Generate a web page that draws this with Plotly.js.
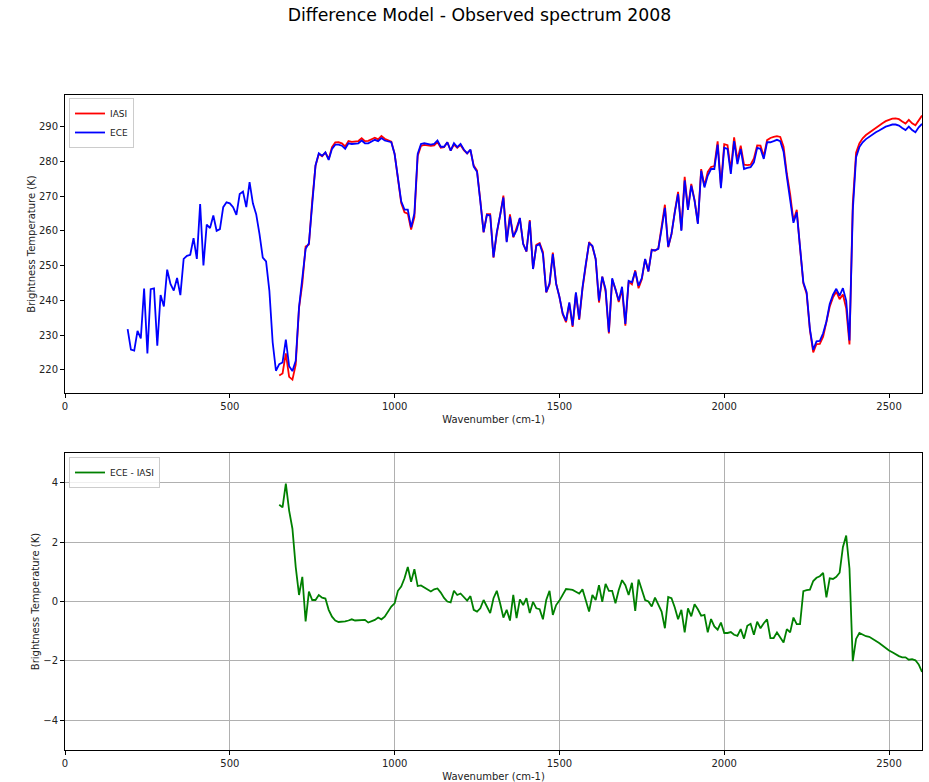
<!DOCTYPE html>
<html>
<head>
<meta charset="utf-8">
<script src="https://cdn.plot.ly/plotly-3.0.1.min.js"></script>
<style>html,body{margin:0;padding:0;background:#fff;}#chart{width:929px;height:782px;}</style>
</head>
<body>
<div id="chart"></div>
<script>
// Wavenumber grid (cm-1)
const wavenumber = [
190,200,210,220,230,240,250,260,270,280,
290,300,310,320,330,340,350,360,370,380,
390,400,410,420,430,440,450,460,470,480,
490,500,510,520,530,540,550,560,570,580,
590,600,610,620,630,640,
650,660,670,680,690,700,710,720,730,740,
750,760,770,780,790,800,810,820,830,840,
850,860,870,880,890,900,910,920,930,940,
950,960,970,980,990,1000,1010,1020,1030,1040,
1050,1060,1070,1080,1090,1100,1110,1120,1130,1140,
1150,1160,1170,1180,1190,1200,1210,1220,1230,1240,
1250,1260,1270,1280,1290,1300,1310,1320,1330,1340,
1350,1360,1370,1380,1390,1400,1410,1420,1430,1440,
1450,1460,1470,1480,1490,1500,1510,1520,1530,1540,
1550,1560,1570,1580,1590,1600,1610,1620,1630,1640,
1650,1660,1670,1680,1690,1700,1710,1720,1730,1740,
1750,1760,1770,1780,1790,1800,1810,1820,1830,1840,
1850,1860,1870,1880,1890,1900,1910,1920,1930,1940,
1950,1960,1970,1980,1990,2000,2010,2020,2030,2040,
2050,2060,2070,2080,2090,2100,2110,2120,2130,2140,
2150,2160,2170,2180,2190,2200,2210,2220,2230,2240,
2250,2260,2270,2280,2290,2300,2310,2320,2330,2340,
2350,2360,2370,2380,2390,2400,2410,2420,2430,2440,
2450,2460,2470,2480,2490,2500,2510,2520,2530,2540,
2550,2560,2570,2580,2590,2600];

// ECE model brightness temperature (K), 190..2600
const ece = [
231.7,225.8,225.5,231.2,229.0,243.4,224.7,243.2,243.4,226.9,
241.5,238.2,248.8,244.7,242.8,246.4,241.5,251.9,252.8,253.1,
257.9,251.9,267.7,250.0,261.8,260.8,264.4,260.0,260.5,266.8,
268.2,267.9,266.8,264.6,270.6,271.3,266.8,274.0,267.9,264.8,
259.1,252.3,251.2,242.8,227.9,219.7,
221.6,222.1,228.7,221.0,219.6,222.6,238.0,245.6,254.8,256.4,
268.7,278.8,282.3,281.6,282.6,280.4,283.6,284.8,284.8,284.5,
283.6,285.2,285.0,285.0,285.2,286.0,285.2,285.2,285.8,286.2,
285.8,286.7,286.0,285.7,285.5,282.1,275.4,268.5,266.1,266.1,
261.0,265.0,282.1,285.0,285.2,285.0,284.8,285.0,286.0,284.2,
284.2,285.5,283.1,285.2,284.1,285.0,283.4,282.3,283.4,278.5,
277.0,268.5,259.6,264.6,264.4,252.4,259.6,264.4,269.6,256.7,
264.1,258.3,260.1,263.7,256.2,254.1,262.7,249.0,255.7,256.2,
253.3,242.3,244.9,253.3,244.7,241.0,236.2,234.1,239.4,232.7,
242.3,234.6,243.7,250.4,256.4,255.7,251.9,239.9,246.8,243.2,
230.8,246.3,243.2,239.9,243.9,233.2,245.6,245.2,248.3,244.2,
246.4,251.9,248.3,254.4,254.4,254.8,260.5,266.6,255.4,259.1,
265.3,270.6,260.0,274.5,266.0,273.0,268.7,262.0,277.3,272.5,
275.9,277.8,277.8,284.8,272.3,283.9,283.6,276.4,285.8,279.2,
283.6,277.8,278.1,278.3,279.7,283.9,283.6,280.7,285.5,285.5,
285.8,286.2,285.8,282.8,275.5,269.5,262.3,265.3,254.3,245.2,
242.3,231.7,225.7,228.2,228.3,230.5,233.9,238.9,241.6,243.3,
241.3,243.5,239.9,228.4,265.8,281.2,284.1,285.5,286.4,287.1,
287.7,288.4,288.9,289.5,290.0,290.3,290.6,290.6,290.3,289.6,
289.0,290.0,289.0,288.4,289.8,290.8];

// IASI observed brightness temperature (K), 650..2600
const iasi = [
218.34,218.93,224.73,217.94,217.15,221.44,237.78,244.77,255.47,256.07,
268.65,278.75,282.08,281.47,282.50,280.68,284.11,285.44,285.49,285.19,
284.27,285.84,285.60,285.64,285.84,286.64,285.82,285.91,286.47,286.82,
286.34,287.30,286.51,286.04,285.67,282.16,275.04,268.00,265.32,264.94,
260.34,263.91,281.58,284.46,284.73,284.59,284.46,284.59,285.56,283.90,
284.08,285.50,283.13,284.84,283.88,284.73,283.24,282.27,283.22,278.78,
277.34,268.73,259.55,264.77,264.79,252.29,259.24,264.46,270.14,256.98,
264.74,258.08,260.66,263.63,256.32,253.99,263.09,249.01,255.93,256.46,
253.90,242.25,244.54,253.75,244.82,240.97,235.98,233.68,238.99,232.31,
241.97,234.33,243.29,250.35,256.74,255.48,251.85,239.35,246.81,242.61,
230.44,245.94,243.26,239.51,243.18,232.65,245.38,244.57,248.62,243.46,
246.01,251.85,248.30,254.57,254.27,254.92,260.84,267.50,255.25,258.99,
265.50,271.20,260.28,275.54,266.23,273.50,268.79,262.26,277.78,272.95,
276.94,278.39,278.64,285.75,273.01,284.96,284.66,277.43,286.92,280.36,
284.53,279.05,278.92,279.05,280.82,284.58,284.50,281.43,286.10,286.73,
287.03,287.24,287.03,284.18,276.43,270.54,262.84,266.06,255.06,244.85,
241.92,231.30,225.01,227.40,227.45,229.54,233.76,238.12,240.84,242.47,
240.33,241.67,237.68,227.29,267.81,282.46,285.16,286.62,287.57,288.29,
288.96,289.71,290.30,290.98,291.57,291.95,292.31,292.39,292.14,291.48,
290.88,291.96,290.94,290.38,291.92,293.17];

// ECE - IASI (K), 650..2600
const eceMinusIasi = [
3.26,3.17,3.97,3.06,2.45,1.16,0.22,0.83,-0.67,0.33,
0.05,0.05,0.22,0.13,0.10,-0.28,-0.51,-0.64,-0.69,-0.69,
-0.67,-0.64,-0.60,-0.64,-0.64,-0.64,-0.62,-0.71,-0.67,-0.62,
-0.54,-0.60,-0.51,-0.34,-0.17,-0.06,0.36,0.50,0.78,1.16,
0.66,1.09,0.52,0.54,0.47,0.41,0.34,0.41,0.44,0.30,
0.12,0.00,-0.03,0.36,0.22,0.27,0.16,0.03,0.18,-0.28,
-0.34,-0.23,0.05,-0.17,-0.39,0.11,0.36,-0.06,-0.54,-0.28,
-0.64,0.22,-0.56,0.07,-0.12,0.11,-0.39,-0.01,-0.23,-0.26,
-0.60,0.05,0.36,-0.45,-0.12,0.03,0.22,0.42,0.41,0.39,
0.33,0.27,0.41,0.05,-0.34,0.22,0.05,0.55,-0.01,0.59,
0.36,0.36,-0.06,0.39,0.72,0.55,0.22,0.63,-0.32,0.74,
0.39,0.05,0.00,-0.17,0.13,-0.12,-0.34,-0.90,0.15,0.11,
-0.20,-0.60,-0.28,-1.04,-0.23,-0.50,-0.09,-0.26,-0.48,-0.45,
-1.04,-0.59,-0.84,-0.95,-0.71,-1.06,-1.06,-1.03,-1.12,-1.16,
-0.93,-1.25,-0.82,-0.75,-1.12,-0.68,-0.90,-0.73,-0.60,-1.23,
-1.23,-1.04,-1.23,-1.38,-0.93,-1.04,-0.54,-0.76,-0.76,0.35,
0.38,0.40,0.69,0.80,0.85,0.96,0.14,0.78,0.76,0.83,
0.97,1.83,2.22,1.11,-2.01,-1.26,-1.06,-1.12,-1.17,-1.19,
-1.26,-1.31,-1.40,-1.48,-1.57,-1.65,-1.71,-1.79,-1.84,-1.88,
-1.88,-1.96,-1.94,-1.98,-2.12,-2.37];

const titleText = "Difference Model - Observed spectrum 2008";
const xTitle = "Wavenumber (cm-1)";
const yTitle = "Brightness Temperature (K)";
const xTicks = [0, 500, 1000, 1500, 2000, 2500];
const yTicksTop = [220, 230, 240, 250, 260, 270, 280, 290];
const yTicksBottom = [-4, -2, 0, 2, 4];

const wnIasi = wavenumber.slice(wavenumber.indexOf(650));

const W = 929, H = 782;
const FONT = "DejaVu Sans, sans-serif";

const traces = [
  {x: wnIasi, y: iasi, name: "IASI", type: "scatter", mode: "lines",
   line: {color: "#ff0000", width: 1.8}, xaxis: "x", yaxis: "y", legend: "legend"},
  {x: wavenumber, y: ece, name: "ECE", type: "scatter", mode: "lines",
   line: {color: "#0000ff", width: 1.8}, xaxis: "x", yaxis: "y", legend: "legend"},
  {x: wnIasi, y: eceMinusIasi, name: "ECE - IASI", type: "scatter", mode: "lines",
   line: {color: "#008000", width: 1.8}, xaxis: "x2", yaxis: "y2", legend: "legend2"}
];

const axisCommon = {
  showline: true, mirror: true, linecolor: "#000", linewidth: 1,
  ticks: "outside", ticklen: 4, tickwidth: 1, tickcolor: "#000",
  tickfont: {family: FONT, size: 10, color: "#222"},
  zeroline: false, automargin: false
};

const xd = [65 / W, 922 / W];
const layout = {
  width: W, height: H,
  paper_bgcolor: "#fff", plot_bgcolor: "#fff",
  margin: {l: 0, r: 0, t: 0, b: 0},
  font: {family: FONT, color: "#222"},
  title: {text: titleText, font: {family: FONT, size: 17.3, color: "#000"},
          x: 479.5 / W, xanchor: "center", xref: "paper",
          y: 1 - 15 / H, yanchor: "middle", yref: "container"},
  showlegend: true,
  xaxis: Object.assign({}, axisCommon, {
    domain: xd, range: [0, 2600], tickvals: xTicks, anchor: "y", showgrid: false,
    title: {text: xTitle, font: {family: FONT, size: 10, color: "#222"}, standoff: 4}
  }),
  yaxis: Object.assign({}, axisCommon, {
    domain: [1 - 393 / H, 1 - 95 / H], range: [213.3, 299.1], tickvals: yTicksTop,
    anchor: "x", showgrid: false,
    title: {text: yTitle, font: {family: FONT, size: 10, color: "#222"}, standoff: 1}
  }),
  xaxis2: Object.assign({}, axisCommon, {
    domain: xd, range: [0, 2600], tickvals: xTicks, anchor: "y2",
    showgrid: true, gridcolor: "#b0b0b0", gridwidth: 0.8,
    title: {text: xTitle, font: {family: FONT, size: 10, color: "#222"}, standoff: 4}
  }),
  yaxis2: Object.assign({}, axisCommon, {
    domain: [1 - 750 / H, 1 - 453 / H], range: [-5, 5], tickvals: yTicksBottom,
    anchor: "x2", showgrid: true, gridcolor: "#b0b0b0", gridwidth: 0.8,
    title: {text: yTitle, font: {family: FONT, size: 10, color: "#222"}, standoff: 1}
  }),
  legend: {x: 69 / W, y: 1 - 98 / H, xanchor: "left", yanchor: "top",
           bgcolor: "rgba(255,255,255,0.8)", bordercolor: "#cccccc", borderwidth: 1,
           font: {family: FONT, size: 9, color: "#222"}, itemwidth: 30,
           tracegroupgap: 0},
  legend2: {x: 69 / W, y: 1 - 457 / H, xanchor: "left", yanchor: "top",
           bgcolor: "rgba(255,255,255,0.8)", bordercolor: "#cccccc", borderwidth: 1,
           font: {family: FONT, size: 9, color: "#222"}, itemwidth: 30}
};

Plotly.newPlot("chart", traces, layout, {displayModeBar: false, responsive: false});
</script>
</body>
</html>
